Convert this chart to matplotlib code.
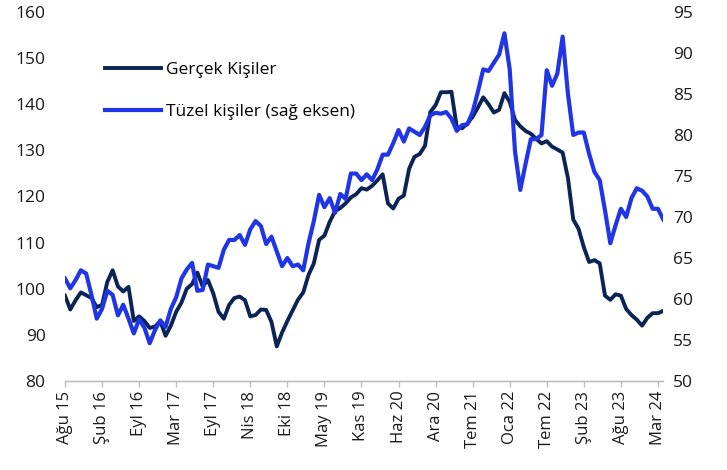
import matplotlib
matplotlib.use("Agg")
import matplotlib.pyplot as plt
import numpy as np

plt.rcParams['font.family'] = ['Open Sans', 'DejaVu Sans']

# data: 4-week steps, Ağu 15 -> Mar 24
gercek = [98.5, 95.5, 97.5, 99.2, 98.6, 98.0, 96.0, 96.5, 101.5, 104.0,
          100.5, 99.4, 100.4, 93.0, 94.0, 93.0, 91.5, 91.8, 93.0, 89.8,
          92.0, 95.0, 97.0, 100.0, 101.0, 103.5, 100.5, 101.9, 99.0, 95.0,
          93.5, 96.5, 98.0, 98.3, 97.5, 94.0, 94.3, 95.5, 95.4, 92.8,
          87.5, 90.5, 93.0, 95.3, 97.6, 99.2, 103.0, 105.5, 110.6, 111.5,
          114.5, 116.8, 117.5, 118.5, 119.8, 120.5, 121.8, 121.5, 122.3, 123.5,
          124.8, 118.5, 117.4, 119.5, 120.2, 126.0, 128.6, 129.2, 131.0, 138.3,
          139.8, 142.6, 142.6, 142.7, 135.0, 134.8, 135.8, 137.3, 139.3, 141.5,
          140.0, 138.2, 138.8, 142.4, 140.5, 136.6, 135.2, 134.2, 133.6, 132.5,
          131.5, 132.0, 130.8, 130.2, 129.5, 124.0, 115.0, 113.0, 109.0, 105.8,
          106.2, 105.5, 98.5, 97.6, 98.8, 98.5, 95.6, 94.3, 93.3, 92.0,
          93.7, 94.7, 94.7, 95.2]

tuzel = [62.5, 61.3, 62.3, 63.5, 63.1, 60.5, 57.6, 58.8, 61.0, 60.5,
         58.0, 59.3, 57.6, 55.8, 57.5, 56.5, 54.6, 56.2, 57.4, 56.6,
         58.8, 60.2, 62.5, 63.6, 64.4, 61.0, 61.1, 64.2, 64.0, 63.8,
         66.0, 67.2, 67.2, 67.8, 66.6, 68.5, 69.5, 68.9, 66.7, 67.6,
         65.8, 64.0, 65.0, 64.0, 64.2, 63.5, 66.8, 69.5, 72.7, 71.2,
         72.3, 70.5, 72.8, 72.2, 75.3, 75.3, 74.5, 75.2, 74.5, 75.8,
         77.6, 77.6, 79.0, 80.6, 79.2, 80.8, 80.4, 80.0, 81.0, 82.4,
         82.7, 82.6, 82.8, 82.0, 80.5, 81.2, 81.3, 82.8, 85.3, 88.0,
         87.8, 88.8, 89.8, 92.4, 88.0, 78.0, 73.3, 76.5, 79.5, 79.5,
         80.0, 87.9, 86.0, 87.5, 92.0, 85.0, 80.0, 80.3, 80.3, 77.7,
         75.5, 74.5, 70.8, 66.8, 69.0, 71.0, 70.0, 72.3, 73.5, 73.2,
         72.5, 71.0, 71.0, 69.7]

tick_labels = ["Ağu 15", "Şub 16", "Eyl 16", "Mar 17", "Eyl 17", "Nis 18",
               "Eki 18", "May 19", "Kas 19", "Haz 20", "Ara 20", "Tem 21",
               "Oca 22", "Tem 22", "Şub 23", "Ağu 23", "Mar 24"]

x = np.arange(len(gercek))

fig = plt.figure(figsize=(7.27, 4.70), dpi=100)
ax = fig.add_axes([0.0894, 0.1894, 0.8229, 0.7851])
ax2 = ax.twinx()

l1, = ax.plot(x, gercek, color='#0b2455', lw=2.8, solid_joinstyle='round',
              label='Gerçek Kişiler')
l2, = ax2.plot(x, tuzel, color='#1f35e6', lw=3.0, solid_joinstyle='round',
               label='Tüzel kişiler (sağ eksen)')

ax.set_xlim(0, len(x) - 1)
ax.set_ylim(80, 160)
ax2.set_ylim(50, 95)
ax.set_yticks(np.arange(80, 161, 10))
ax2.set_yticks(np.arange(50, 96, 5))
ax.set_xticks(np.arange(0, len(x), 7))
ax.set_xticklabels(tick_labels, rotation=90)

for a in (ax, ax2):
    for s in a.spines.values():
        s.set_visible(False)
    a.spines['bottom'].set_visible(True)
    a.spines['bottom'].set_color('#bfbfbf')
    a.spines['bottom'].set_linewidth(1.0)

ax.tick_params(axis='y', length=0, pad=14, labelsize=12.5, labelcolor='#1a1a1a')
ax2.tick_params(axis='y', length=0, pad=7, labelsize=12.5, labelcolor='#1a1a1a')
ax.tick_params(axis='x', length=4, width=1, color='#bfbfbf', pad=3,
               labelsize=12, labelcolor='#1a1a1a')

ax2.legend(handles=[l1, l2], loc='upper left', bbox_to_anchor=(0.135, 0.883),
           bbox_transform=fig.transFigure, frameon=False, fontsize=12.5,
           handlelength=3.2, handletextpad=0.3, labelspacing=1.5,
           borderaxespad=0)

fig.savefig('out.png', dpi=100)
